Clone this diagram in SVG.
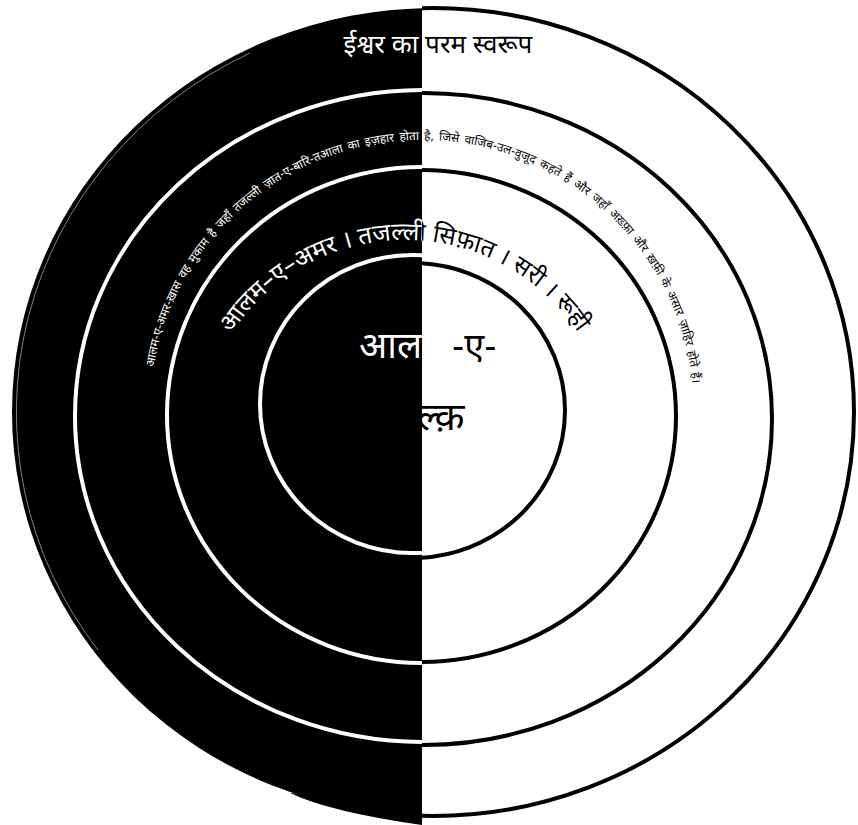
<svg xmlns="http://www.w3.org/2000/svg" xmlns:xlink="http://www.w3.org/1999/xlink" width="858" height="825" viewBox="0 0 858 825">
<defs>
<style>
text { font-family: "Noto Sans Devanagari", "Noto Sans", "DejaVu Sans", sans-serif; }
.wr { fill: none; stroke: #fff; stroke-width: 4; }
.br { fill: none; stroke: #000; stroke-width: 4; }
</style>
<clipPath id="clipL"><rect x="0" y="0" width="422" height="825"/></clipPath>
<clipPath id="clipR"><rect x="422" y="0" width="436" height="825"/></clipPath>
<path id="arcOuter" d="M150,412 A272,272 0 0 1 694,412"/>
<path id="arcMid" d="M197,448 A208,208 0 0 1 613,448"/>
<text id="title" x="438" y="53" font-size="26" text-anchor="middle">ईश्वर का परम स्वरूप</text>
<text id="outerText" font-size="12" word-spacing="2"><textPath href="#arcOuter" startOffset="45">आलम-ए-अमर-ख़ास वह मुकाम है जहाँ तजल्ली ज़ात-ए-बारि-तआला का इज़हार होता है, जिसे वाजिब-उल-वुजूद कहते हैं और जहाँ अख़्फ़ा और ख़फ़ी के असार ज़ाहिर होते हैं।</textPath></text>
<text id="midText" font-size="24.5"><textPath href="#arcMid" startOffset="121">आलम–ए–अमर । तजल्ली सिफ़ात । सरी । रूही</textPath></text>
</defs>
<rect x="0" y="0" width="858" height="825" fill="#fff"/>
<g id="left-half" clip-path="url(#clipL)">
<ellipse cx="433" cy="412" rx="421" ry="404" fill="#000"/>
<path d="M290,793 Q330,812 422,825 L422,805 Z" fill="#000"/>
<path d="M98,650 A417,400 0 0 1 250,53" fill="none" stroke="#fff" stroke-width="1" stroke-opacity="0.5"/>
<ellipse class="wr" cx="423.5" cy="416" rx="348.5" ry="326"/>
<ellipse class="wr" cx="421.5" cy="415" rx="254.5" ry="248"/>
<ellipse class="wr" cx="412.5" cy="404" rx="152.5" ry="149"/>
</g>
<g id="right-half" clip-path="url(#clipR)">
<ellipse class="br" cx="433" cy="412" rx="421" ry="404"/>
<ellipse class="br" cx="423.5" cy="419" rx="348.5" ry="326" stroke-width="3"/>
<ellipse class="br" cx="421.5" cy="416" rx="254.5" ry="246"/>
<ellipse class="br" cx="412.5" cy="410.5" rx="152.5" ry="147.5"/>
</g>
<g id="labels">
<use href="#title" fill="#fff" clip-path="url(#clipL)"/>
<use href="#title" fill="#000" clip-path="url(#clipR)"/>
<use href="#outerText" fill="#fff" clip-path="url(#clipL)"/>
<use href="#outerText" fill="#000" clip-path="url(#clipR)"/>
<use href="#midText" fill="#fff" clip-path="url(#clipL)"/>
<use href="#midText" fill="#000" clip-path="url(#clipR)"/>
<text x="422" y="358" font-size="37" text-anchor="end" fill="#fff" clip-path="url(#clipL)">आल</text>
<text x="452" y="359" font-size="36" fill="#000">-ए-</text>
<text x="417" y="430" font-size="39" fill="#000" clip-path="url(#clipR)">ल्क़</text>
</g>
</svg>
